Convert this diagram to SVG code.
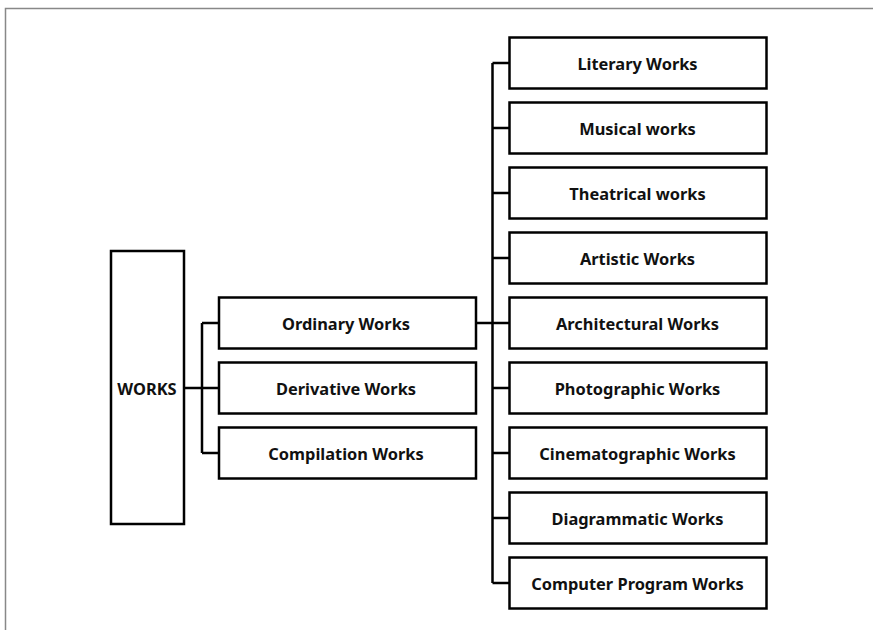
<svg xmlns="http://www.w3.org/2000/svg" width="873" height="630" viewBox="0 0 873 630">
<style>
.box{fill:#fff;stroke:#000;stroke-width:2.5}
.lbl{font-family:"Noto Sans","Liberation Sans",sans-serif;font-weight:bold;font-size:16.4px;fill:#111;text-anchor:middle;dominant-baseline:central}
.con{fill:none;stroke:#000;stroke-width:2.5}
</style>
<rect width="873" height="630" fill="#fff"/>
<path d="M5.5 630 V8.5 H873" fill="none" stroke="#888" stroke-width="1.5"/>
<g id="connectors">
<path class="con" d="M184 388 H219 M202 323 V453 M202 323 H219 M202 453 H219"/>
<path class="con" d="M476 323 H509 M492.5 63 V583 M492.5 63 H509 M492.5 128 H509 M492.5 193 H509 M492.5 258 H509 M492.5 388 H509 M492.5 453 H509 M492.5 518 H509 M492.5 583 H509"/>
</g>
<g id="works"><rect class="box" x="111" y="251" width="73" height="273"/><text class="lbl" x="147" y="388">WORKS</text></g>
<g id="ordinary"><rect class="box" x="219" y="297.5" width="257" height="51"/><text class="lbl" x="346" y="323">Ordinary Works</text></g>
<g id="derivative"><rect class="box" x="219" y="362.5" width="257" height="51"/><text class="lbl" x="346" y="388">Derivative Works</text></g>
<g id="compilation"><rect class="box" x="219" y="427.5" width="257" height="51"/><text class="lbl" x="346" y="453">Compilation Works</text></g>
<g id="literary"><rect class="box" x="509.5" y="37.5" width="257" height="51"/><text class="lbl" x="637.5" y="63">Literary Works</text></g>
<g id="musical"><rect class="box" x="509.5" y="102.5" width="257" height="51"/><text class="lbl" x="637.5" y="128">Musical works</text></g>
<g id="theatrical"><rect class="box" x="509.5" y="167.5" width="257" height="51"/><text class="lbl" x="637.5" y="193">Theatrical works</text></g>
<g id="artistic"><rect class="box" x="509.5" y="232.5" width="257" height="51"/><text class="lbl" x="637.5" y="258">Artistic Works</text></g>
<g id="architectural"><rect class="box" x="509.5" y="297.5" width="257" height="51"/><text class="lbl" x="637.5" y="323">Architectural Works</text></g>
<g id="photographic"><rect class="box" x="509.5" y="362.5" width="257" height="51"/><text class="lbl" x="637.5" y="388">Photographic Works</text></g>
<g id="cinematographic"><rect class="box" x="509.5" y="427.5" width="257" height="51"/><text class="lbl" x="637.5" y="453">Cinematographic Works</text></g>
<g id="diagrammatic"><rect class="box" x="509.5" y="492.5" width="257" height="51"/><text class="lbl" x="637.5" y="518">Diagrammatic Works</text></g>
<g id="computer"><rect class="box" x="509.5" y="557.5" width="257" height="51"/><text class="lbl" x="637.5" y="583">Computer Program Works</text></g>
</svg>
